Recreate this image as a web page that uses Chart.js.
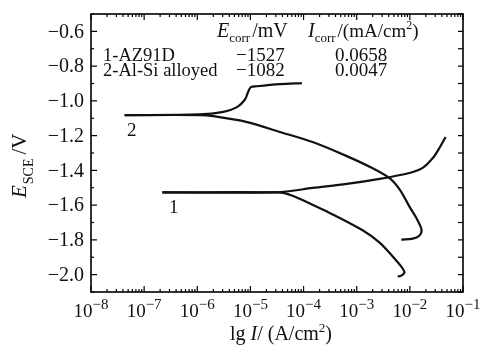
<!DOCTYPE html>
<html>
<head>
<meta charset="utf-8">
<script src="https://cdn.jsdelivr.net/npm/chart.js@4"></script>
<style>
  html, body { margin: 0; padding: 0; background: #fff; }
  #box { width: 486px; height: 345px; }
</style>
</head>
<body>
<div id="box"><canvas id="myChart"></canvas></div>
<script>
// Datos (I en A/cm2, E en V vs SCE)
const az91dCatI = [2.2e-7, 3.4e-5, 6e-5, 1.4e-4, 3.1e-4, 1.29e-3, 2.7e-3, 4.8e-3, 6.9e-3, 7.9e-3, 6.9e-3, 5.9e-3];
const az91dCatE = [-1.527, -1.527, -1.545, -1.595, -1.645, -1.745, -1.816, -1.897, -1.954, -1.988, -2.006, -2.011];
const az91dAnI = [2.2e-7, 3.6e-5, 1.48e-4, 6.5e-4, 2.7e-3, 9.8e-3, 1.74e-2, 2.7e-2, 3.6e-2, 4.7e-2];
const az91dAnE = [-1.527, -1.525, -1.501, -1.478, -1.449, -1.415, -1.386, -1.329, -1.271, -1.208];

const alsiCatI = [4.3e-8, 1.1e-6, 2e-6, 8.7e-6, 3.6e-5, 1.48e-4, 6.5e-4, 2e-3, 4.2e-3, 6.5e-3, 9.9e-3, 1.38e-2, 1.66e-2, 1.5e-2, 1.13e-2, 6.9e-3];
const alsiCatE = [-1.082, -1.082, -1.088, -1.122, -1.179, -1.237, -1.318, -1.388, -1.446, -1.512, -1.610, -1.684, -1.742, -1.776, -1.793, -1.799];
const alsiAnI = [4.3e-8, 1.1e-6, 3.1e-6, 5.6e-6, 7.9e-6, 9.0e-6, 1.02e-5, 1.32e-5, 3.6e-5, 9.3e-5];
const alsiAnE = [-1.082, -1.078, -1.063, -1.036, -0.992, -0.950, -0.921, -0.916, -0.904, -0.898];

// Ticks
const xDecadas = [-8, -7, -6, -5, -4, -3, -2, -1];
const yTicks = [-0.6, -0.8, -1.0, -1.2, -1.4, -1.6, -1.8, -2.0];

// Tabla de la leyenda
const muestras = ['1-AZ91D', '2-Al-Si alloyed'];
const ecorr = ['\u22121527', '\u22121082'];
const icorr = ['0.0658', '0.0047'];

const SERIF = "'Liberation Serif', 'Times New Roman', serif";

function puntos(xs, ys) {
    return xs.map((v, i) => ({ x: v, y: ys[i] }));
}

function curva(xs, ys) {
    return {
        data: puntos(xs, ys),
        showLine: true,
        borderColor: '#111',
        borderWidth: 2.2,
        pointRadius: 0,
        tension: 0.3,
        fill: false
    };
}

// dibuja un texto con partes (normal, italica, sub/superindice)
function texto(ctx, x, y, partes) {
    let cx = x;
    partes.forEach(function (p) {
        ctx.font = (p.it ? 'italic ' : '') + p.size + 'px ' + SERIF;
        ctx.fillText(p.t, cx, y + (p.dy || 0));
        cx += ctx.measureText(p.t).width + (p.gap || 0);
    });
    return cx - x;
}

function medir(ctx, partes) {
    let w = 0;
    partes.forEach(function (p) {
        ctx.font = (p.it ? 'italic ' : '') + p.size + 'px ' + SERIF;
        w += ctx.measureText(p.t).width + (p.gap || 0);
    });
    return w;
}

const marco = {
    id: 'marco',
    afterDraw(chart) {
        const { ctx, chartArea: a, scales: { x, y } } = chart;
        ctx.save();
        ctx.strokeStyle = '#000';
        ctx.fillStyle = '#111';
        ctx.lineWidth = 1.6;
        ctx.strokeRect(a.left, a.top, a.right - a.left, a.bottom - a.top);

        function linea(x1, y1, x2, y2) {
            ctx.beginPath();
            ctx.moveTo(x1, y1);
            ctx.lineTo(x2, y2);
            ctx.stroke();
        }

        // ticks eje x (arriba y abajo, hacia adentro)
        ctx.lineWidth = 1.2;
        xDecadas.forEach(function (d) {
            for (let m = 1; m <= 9; m++) {
                if (d === -1 && m > 1) break;
                const px = x.getPixelForValue(m * Math.pow(10, d));
                const len = m === 1 ? 6 : 3;
                linea(px, a.bottom, px, a.bottom - len);
                linea(px, a.top, px, a.top + len);
            }
        });

        // ticks eje y cada 0.1
        for (let k = 5; k <= 21; k++) {
            const v = -k / 10;
            const py = y.getPixelForValue(v);
            const len = k % 2 === 0 ? 6 : 3;
            linea(a.left, py, a.left + len, py);
            linea(a.right, py, a.right - 5, py);
        }

        // etiquetas eje y
        ctx.textAlign = 'right';
        ctx.textBaseline = 'middle';
        ctx.font = '20px ' + SERIF;
        yTicks.forEach(function (v) {
            ctx.fillText('\u2212' + Math.abs(v).toFixed(1), a.left - 7, y.getPixelForValue(v) + 1);
        });

        // etiquetas eje x: 10^n
        ctx.textAlign = 'left';
        ctx.textBaseline = 'alphabetic';
        xDecadas.forEach(function (d) {
            const partes = [
                { t: '10', size: 19 },
                { t: '\u2212' + Math.abs(d), size: 15, dy: -8 }
            ];
            const w = medir(ctx, partes);
            const px = x.getPixelForValue(Math.pow(10, d));
            texto(ctx, px - w / 2, a.bottom + 25, partes);
        });

        // titulo eje x
        const tx = [
            { t: 'lg ', size: 20 },
            { t: 'I', size: 20, it: true },
            { t: '/ (A/cm', size: 20 },
            { t: '2', size: 13, dy: -8 },
            { t: ')', size: 20 }
        ];
        texto(ctx, 281 - medir(ctx, tx) / 2, 340, tx);

        // titulo eje y (rotado)
        ctx.save();
        ctx.translate(26, 198);
        ctx.rotate(-Math.PI / 2);
        texto(ctx, 0, 0, [
            { t: 'E', size: 21, it: true, gap: 1 },
            { t: 'SCE', size: 14, dy: 7, gap: 4 },
            { t: '/V', size: 21 }
        ]);
        ctx.restore();

        // encabezado de la tabla
        texto(ctx, 217, 37, [
            { t: 'E', size: 20, it: true },
            { t: 'corr', size: 13, dy: 5, gap: 2 },
            { t: '/mV', size: 20 }
        ]);
        texto(ctx, 308, 37, [
            { t: 'I', size: 20, it: true },
            { t: 'corr', size: 13, dy: 5, gap: 2 },
            { t: '/(mA/cm', size: 19 },
            { t: '2', size: 12, dy: -8 },
            { t: ')', size: 19 }
        ]);

        // filas
        ctx.font = '18.5px ' + SERIF;
        muestras.forEach(function (m, i) {
            const by = 61 + i * 15;
            ctx.fillText(m, 103, by);
        });
        ctx.font = '19px ' + SERIF;
        muestras.forEach(function (m, i) {
            const by = 61 + i * 15;
            ctx.fillText(ecorr[i], 236, by);
            ctx.fillText(icorr[i], 335, by);
        });

        // numeros de las curvas
        ctx.font = '19px ' + SERIF;
        ctx.fillText('2', 127, 136);
        ctx.fillText('1', 169, 213);

        ctx.restore();
    }
};

const ctx = document.getElementById('myChart').getContext('2d');
const myChart = new Chart(ctx, {
    type: 'scatter',
    data: {
        datasets: [
            curva(az91dCatI, az91dCatE),
            curva(az91dAnI, az91dAnE),
            curva(alsiCatI, alsiCatE),
            curva(alsiAnI, alsiAnE)
        ]
    },
    options: {
        responsive: true,
        maintainAspectRatio: false,
        animation: false,
        layout: { padding: { left: 91, right: 23, top: 14, bottom: 53 } },
        plugins: { legend: { display: false }, tooltip: { enabled: false } },
        scales: {
            x: { type: 'logarithmic', min: 1e-8, max: 1e-1, display: false },
            y: { type: 'linear', min: -2.1, max: -0.5, display: false }
        }
    },
    plugins: [marco]
});
</script>
</body>
</html>
